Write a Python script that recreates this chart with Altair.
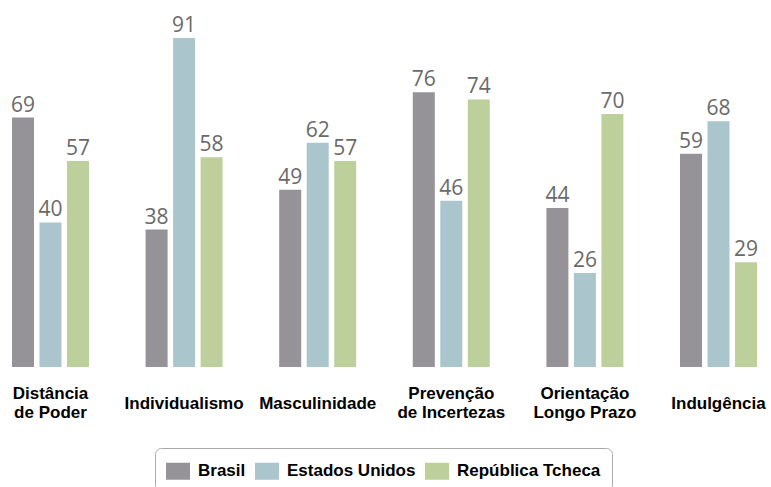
import altair as alt
import pandas as pd

categories = ["Distância\nde Poder", "Individualismo", "Masculinidade",
              "Prevenção\nde Incertezas", "Orientação\nLongo Prazo", "Indulgência"]
series = ["Brasil", "Estados Unidos", "República Tcheca"]
brasil = [69, 38, 49, 76, 44, 59]
eua = [40, 91, 62, 46, 26, 68]
tcheca = [57, 58, 57, 74, 70, 29]
colors = ["#959397", "#abc5cd", "#bdd09c"]

rows = []
for vals, s in zip([brasil, eua, tcheca], series):
    for c, v in zip(categories, vals):
        rows.append({"cat": c, "serie": s, "valor": v})
df = pd.DataFrame(rows)

x = alt.X("cat:N", sort=categories, title=None,
          scale=alt.Scale(paddingInner=0.4237, paddingOuter=0.0898),
          axis=alt.Axis(labelAngle=0, domain=False, ticks=False, tickSize=0,
                        labelPadding={"condition": {"test": "indexof(datum.label, '\\n') >= 0",
                                                    "value": 26},
                                      "value": 36},
                        labelBaseline="middle",
                        labelExpr="split(datum.label, '\\n')",
                        labelFont="Liberation Sans", labelFontWeight="bold",
                        labelFontSize=17, labelColor="#000000",
                        labelLineHeight=19, labelLimit=200))
xo = alt.XOffset("serie:N", sort=series,
                 scale=alt.Scale(paddingInner=0.2, paddingOuter=0))
y = alt.Y("valor:Q", scale=alt.Scale(domain=[0, 91], nice=False, zero=True),
          axis=None)

bars = alt.Chart(df).mark_bar().encode(
    x=x, xOffset=xo, y=y,
    color=alt.Color("serie:N", sort=series, title=None,
                    scale=alt.Scale(domain=series, range=colors),
                    legend=alt.Legend(orient="none", legendX=155, legendY=410,
                                      direction="horizontal",
                                      symbolType="M-1,-0.708L1,-0.708L1,0.708L-1,0.708Z",
                                      symbolSize=576, symbolStrokeWidth=0,
                                      symbolOpacity=1,
                                      labelFont="Liberation Sans", labelFontWeight="bold",
                                      labelFontSize=17, labelColor="#000000",
                                      labelOffset=8, columnPadding=9,
                                      padding=11, strokeColor="#a8a8a8",
                                      fillColor="#ffffff", cornerRadius=6,
                                      labelLimit=300))
)

labels = alt.Chart(df).mark_text(baseline="alphabetic", dy=-6, font="Open Sans",
                                 fontSize=21, color="#6a6a6a").encode(
    x=x, xOffset=xo, y=y, text="valor:Q"
)

chart = (bars + labels).properties(
    width=769, height=329,
    autosize=alt.AutoSizeParams(type="none"),
    padding={"left": 0, "top": 38, "right": 2, "bottom": 120},
    background="#ffffff",
).configure_view(stroke=None)

chart.save("out.html", embed_options={"renderer": "svg", "actions": False})
